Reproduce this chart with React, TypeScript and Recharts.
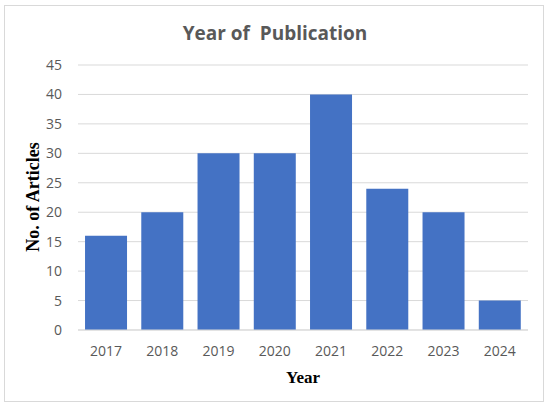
import { BarChart, Bar, XAxis, YAxis, CartesianGrid } from 'recharts'

const YEARS = ['2017', '2018', '2019', '2020', '2021', '2022', '2023', '2024']
const ARTICLES = [16, 20, 30, 30, 40, 24, 20, 5]
const Y_TICKS = [0, 5, 10, 15, 20, 25, 30, 35, 40, 45]

const data = YEARS.map((year, i) => ({ year, articles: ARTICLES[i] }))

const tickFont = { fontSize: 14, fill: '#595959', fontFamily: '"Open Sans", sans-serif' }

export default function App() {
  return (
    <div
      style={{
        position: 'fixed',
        left: 0,
        top: 0,
        width: 550,
        height: 408,
        background: '#fff',
      }}
    >
      <div
        style={{
          position: 'absolute',
          left: 4,
          top: 5,
          width: 540,
          height: 397,
          border: '1px solid #d9d9d9',
          boxSizing: 'border-box',
        }}
      />
      <div
        style={{
          position: 'absolute',
          top: 20,
          width: 550,
          textAlign: 'center',
          fontFamily: '"Open Sans", sans-serif',
          fontWeight: 'bold',
          fontSize: 19,
          color: '#595959',
          whiteSpace: 'pre',
        }}
      >
        {'Year of  Publication'}
      </div>
      <BarChart
        width={550}
        height={408}
        data={data}
        margin={{ top: 65, right: 22, left: 0, bottom: 48 }}
        barCategoryGap='12.5%'
        style={{ position: 'absolute', left: 0, top: 0 }}
      >
        <CartesianGrid vertical={false} stroke='#d9d9d9' />
        <XAxis
          dataKey='year'
          axisLine={{ stroke: '#d9d9d9' }}
          tickLine={false}
          tick={tickFont}
          tickMargin={10}
        />
        <YAxis
          domain={[0, 45]}
          ticks={Y_TICKS}
          axisLine={false}
          tickLine={false}
          tick={tickFont}
          width={78}
          tickMargin={10}
        />
        <Bar dataKey='articles' fill='#4472C4' isAnimationActive={false} />
      </BarChart>
      <div
        style={{
          position: 'absolute',
          left: 33,
          top: 197,
          transform: 'translate(-50%, -50%) rotate(-90deg)',
          fontFamily: '"Liberation Serif", serif',
          fontWeight: 'bold',
          fontSize: 18,
          color: '#000',
          whiteSpace: 'nowrap',
        }}
      >
        No. of Articles
      </div>
      <div
        style={{
          position: 'absolute',
          left: 303,
          top: 378,
          transform: 'translate(-50%, -50%)',
          fontFamily: '"Liberation Serif", serif',
          fontWeight: 'bold',
          fontSize: 17,
          color: '#000',
        }}
      >
        Year
      </div>
    </div>
  )
}
